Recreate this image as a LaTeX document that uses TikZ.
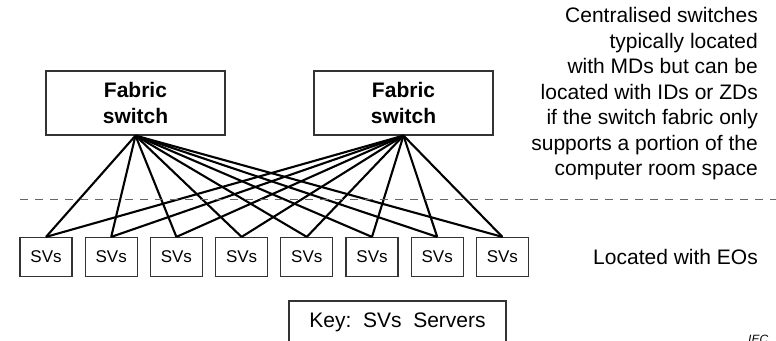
\documentclass[tikz,border=0pt]{standalone}
\usepackage{fontspec}
\setmainfont{Liberation Sans}
\usetikzlibrary{positioning}

\begin{document}
\begin{tikzpicture}[
  x=1pt, y=-1pt,
  node distance=12pt,
  switch/.style={draw=black!80, line width=1.2pt, minimum width=179pt, minimum height=64pt, align=center, font=\fontsize{21}{26}\selectfont\bfseries},
  server/.style={draw=black!80, line width=1.2pt, minimum width=52pt, minimum height=39pt, inner sep=0pt, font=\fontsize{17}{20}\selectfont},
  note/.style={align=right, anchor=east, inner sep=0pt, font=\fontsize{21}{25.5}\selectfont},
  link/.style={line width=2.1pt}
]
  \useasboundingbox (0,0) rectangle (776,340);

  % switches
  \node[switch] (swa) at (135.5,103) {Fabric\\switch};
  \node[switch] (swb) at (403.5,103) {Fabric\\switch};

  % row of servers
  \node[server] (sv1) at (46,257) {SVs};
  \foreach \i [remember=\i as \j (initially 1)] in {2,...,8}
    \node[server, right=of sv\j] (sv\i) {SVs};

  % every server goes to both switches
  \foreach \i in {1,...,8} {
    \draw[link] (swa.south) -- (sv\i.north);
    \draw[link] (swb.south) -- (sv\i.north);
  }

  % boundary between the two zones
  \coordinate (zl) at (20,199);
  \coordinate (zr) at (776,199);
  \draw[draw=black!60, line width=0.8pt, dash pattern=on 8pt off 7pt] (zl) -- (zr);

  \node[note] (top) at (758,94) {Centralised switches\\typically located\\with MDs but can be\\located with IDs or ZDs\\if the switch fabric only\\supports a portion of the\\computer room space};
  \node[note] (eo) at (758,257) {Located with EOs};

  \node[draw=black!80, line width=1.2pt, minimum width=217pt, minimum height=42pt, font=\fontsize{21}{25}\selectfont] (key) at (397.5,322) {Key:\ \ SVs\ \ Servers};

  \node[anchor=north west, inner sep=0pt, font=\fontsize{12}{14}\selectfont\itshape] (iec) at (748,335) {IEC};
\end{tikzpicture}
\end{document}
